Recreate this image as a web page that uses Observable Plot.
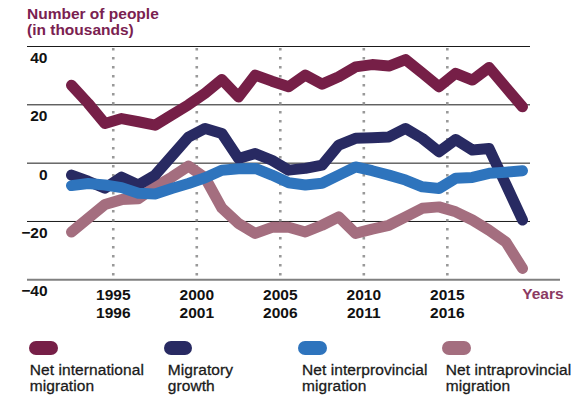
<!DOCTYPE html>
<html>
<head>
<meta charset="utf-8">
<script src="https://cdn.jsdelivr.net/npm/d3@7"></script>
<script src="https://cdn.jsdelivr.net/npm/@observablehq/plot@0.6"></script>
<style>
  html, body { margin: 0; padding: 0; background: #fff; }
  body { width: 572px; height: 398px; position: relative; overflow: hidden; font-family: "Liberation Sans", Arial, sans-serif; }
  #title { position: absolute; left: 27px; top: 6px; font-size: 15.5px; line-height: 16px; font-weight: bold; color: #7a2150; }
  #chart { position: absolute; left: 0; top: 0; }
  #legend { position: absolute; left: 0; top: 340.5px; width: 572px; height: 57px; }
  .item { position: absolute; top: 0; white-space: nowrap; }
  .sw { width: 28.5px; height: 14.5px; border-radius: 7.25px; }
  .lab { margin-top: 6.6px; font-size: 15.5px; line-height: 16.7px; color: #1a1a1a; letter-spacing: 0.08px; -webkit-text-stroke: 0.3px #1a1a1a; }
</style>
</head>
<body>
<div id="title">Number of people<br>(in thousands)</div>
<div id="chart"></div>
<div id="legend"></div>
<script>
// Period (plotted at ending year)
const years = [1993, 1994, 1995, 1996, 1997, 1998, 1999, 2000, 2001, 2002, 2003, 2004, 2005, 2006,
               2007, 2008, 2009, 2010, 2011, 2012, 2013, 2014, 2015, 2016, 2017, 2018, 2019, 2020];
const netInternational = [26.7, 20.5, 13.6, 15.3, 14.2, 13.0, 16.5, 20.0, 24.0, 28.7, 22.7, 30.2, 28.1, 26.2,
                          30.2, 27.1, 29.6, 33.0, 33.8, 33.3, 35.5, 30.9, 26.2, 30.8, 28.5, 32.8, 26.0, 19.3];
const migratoryGrowth = [-4.1, -6.2, -8.6, -4.8, -7.5, -4.1, 2.4, 8.9, 11.9, 10.2, 1.6, 3.3, 1.0, -2.4,
                         -1.8, -0.7, 6.2, 8.5, 8.7, 9.0, 11.9, 8.5, 3.9, 8.1, 4.5, 5.0, -7.2, -19.5];
const netInterprovincial = [-7.7, -7.0, -7.5, -8.4, -10.3, -10.6, -8.7, -7.0, -5.0, -2.4, -1.9, -1.8, -4.1, -6.7,
                            -7.5, -6.9, -4.1, -1.3, -2.6, -4.1, -5.8, -8.1, -8.7, -5.2, -4.9, -3.5, -3.1, -2.6];
const netIntraprovincial = [-23.6, -18.9, -14.2, -12.5, -12.2, -8.2, -4.8, -1.0, -5.0, -15.4, -20.7, -24.1, -22.0, -22.0,
                            -23.6, -21.3, -18.4, -24.1, -22.6, -21.3, -18.4, -15.5, -15.0, -16.7, -19.5, -23.0, -27.0, -36.1];

const seriesNames = ["Net international\nmigration", "Migratory\ngrowth", "Net interprovincial\nmigration", "Net intraprovincial\nmigration"];
const seriesColors = ["#761f47", "#282a62", "#2e74bd", "#a46e7f"];
const seriesValues = [netInternational, migratoryGrowth, netInterprovincial, netIntraprovincial];

const tickYears = [1995, 2000, 2005, 2010, 2015];
const tickLabels = ["1995\n1996", "2000\n2001", "2005\n2006", "2010\n2011", "2015\n2016"];
const yTicks = [40, 20, 0, -20, -40];
const gridValues = [40, 20, 0, -20];

const tidy = [];
seriesValues.forEach((vals, s) => vals.forEach((v, i) => tidy.push({series: seriesNames[s], year: years[i], value: v})));

const drawOrder = [3, 1, 2, 0];
const lineMarks = drawOrder.map(s => Plot.line(tidy.filter(d => d.series === seriesNames[s]), {
  x: "year", y: "value", stroke: seriesColors[s], strokeWidth: 11,
  strokeLinecap: "round", strokeLinejoin: "round"
}));

const chart = Plot.plot({
  width: 572,
  height: 330,
  marginTop: 46,
  marginBottom: 50.7,
  marginLeft: 27,
  marginRight: 42,
  x: {domain: [1990.366, 2020.479]},
  y: {domain: [-40, 40]},
  style: {fontFamily: "'Liberation Sans', Arial, sans-serif", fontSize: "15.5px", color: "#111", background: "transparent", overflow: "visible"},
  marks: [
    Plot.ruleY(gridValues, {stroke: "#1a1a1a", strokeWidth: 1}),
    Plot.ruleY([-40], {stroke: "#808080", strokeWidth: 2, insetRight: -30}),
    Plot.ruleX(tickYears, {x: d => d + 0.5, y1: 40, y2: -40, insetTop: 2, stroke: "#999999", strokeWidth: 2.6, strokeDasharray: "2.6,6.4"}),
    ...lineMarks,
    Plot.axisY(yTicks, {tickSize: 0, tickPadding: 0, dx: 20, dy: 11.5, fontWeight: "bold", textAnchor: "end", label: null, fill: "#111"}),
    Plot.axisX(tickYears.map(d => d + 0.5), {tickSize: 0, tickPadding: 8, tickFormat: (d, i) => tickLabels[i], fontWeight: "bold", lineHeight: 1.15, label: null, fill: "#111"}),
    Plot.text(["Years"], {frameAnchor: "bottom-right", textAnchor: "start", dx: -8.3, dy: 14, lineAnchor: "middle", fill: "#8b3a62", fontWeight: "bold", fontSize: 15.5})
  ]
});
document.getElementById("chart").appendChild(chart);

const legendLefts = [29, 163.5, 298, 442];
const textIndents = [0.7, 4.3, 4, 3.7];
const legend = document.getElementById("legend");
seriesNames.forEach((name, s) => {
  const item = document.createElement("div");
  item.className = "item";
  item.style.left = legendLefts[s] + "px";
  const sw = document.createElement("div");
  sw.className = "sw";
  sw.style.background = seriesColors[s];
  const lab = document.createElement("div");
  lab.className = "lab";
  lab.style.paddingLeft = textIndents[s] + "px";
  lab.innerHTML = name.split("\n").join("<br>");
  item.appendChild(sw);
  item.appendChild(lab);
  legend.appendChild(item);
});
</script>
</body>
</html>
